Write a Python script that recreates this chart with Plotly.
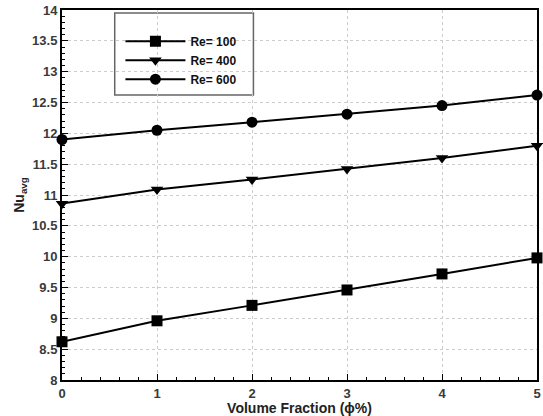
import plotly.graph_objects as go

phi = [0, 1, 2, 3, 4, 5]
re100 = [8.62, 8.96, 9.21, 9.46, 9.72, 9.98]
re400 = [10.86, 11.09, 11.25, 11.42, 11.60, 11.80]
re600 = [11.90, 12.05, 12.18, 12.31, 12.45, 12.62]
names = ["Re= 100", "Re= 400", "Re= 600"]
symbols = ["square", "triangle-down", "circle"]

fig = go.Figure()
for ys, nm, sym in zip([re100, re400, re600], names, symbols):
    fig.add_trace(go.Scatter(
        x=phi, y=ys, name=nm, mode="lines+markers",
        line=dict(color="black", width=2),
        marker=dict(symbol=sym, size=11, color="black"),
        cliponaxis=False,
    ))

FONT = "Liberation Sans, Arial"
axfont = dict(family=FONT, size=13, color="#3a3a3a", weight="bold")
fig.update_layout(
    width=543, height=416,
    margin=dict(l=62, r=2, t=10, b=36),
    paper_bgcolor="white", plot_bgcolor="white",
    showlegend=True,
    legend=dict(
        x=0.123, y=0.955, xanchor="left", yanchor="top",
        borderwidth=0, bgcolor="rgba(0,0,0,0)",
        font=dict(family=FONT, size=12, color="#111111", weight="bold"),
        itemwidth=60, tracegroupgap=0,
    ),
    shapes=[dict(type="rect", xref="paper", yref="paper",
                 x0=0.111, x1=0.403, y0=0.770, y1=0.992,
                 line=dict(color="#666666", width=1.5), fillcolor="white", layer="below")],
    xaxis=dict(
        range=[0, 5], dtick=1, tick0=0,
        showline=True, linecolor="black", linewidth=2, mirror=True,
        ticks="inside", ticklen=6, tickcolor="black",
        minor=dict(dtick=0.2, ticks="inside", ticklen=3, tickcolor="black", showgrid=False),
        showgrid=True, gridcolor="#cccccc", griddash="dot", gridwidth=1,
        tickfont=axfont,
        title=dict(text="Volume Fraction (ϕ%)", standoff=2,
                   font=dict(family=FONT, size=14, color="#222222", weight="bold")),
        zeroline=False,
    ),
    yaxis=dict(
        range=[8, 14], dtick=0.5, tick0=8,
        showline=True, linecolor="black", linewidth=2, mirror=True,
        ticks="inside", ticklen=6, tickcolor="black",
        minor=dict(dtick=0.1, ticks="inside", ticklen=3, tickcolor="black", showgrid=False),
        showgrid=True, gridcolor="#cccccc", griddash="dot", gridwidth=1,
        tickfont=axfont,
        title=dict(text="Nu<sub>avg</sub>", standoff=4,
                   font=dict(family=FONT, size=14, color="#222222", weight="bold")),
        zeroline=False,
    ),
)
fig.write_html("out.html")
